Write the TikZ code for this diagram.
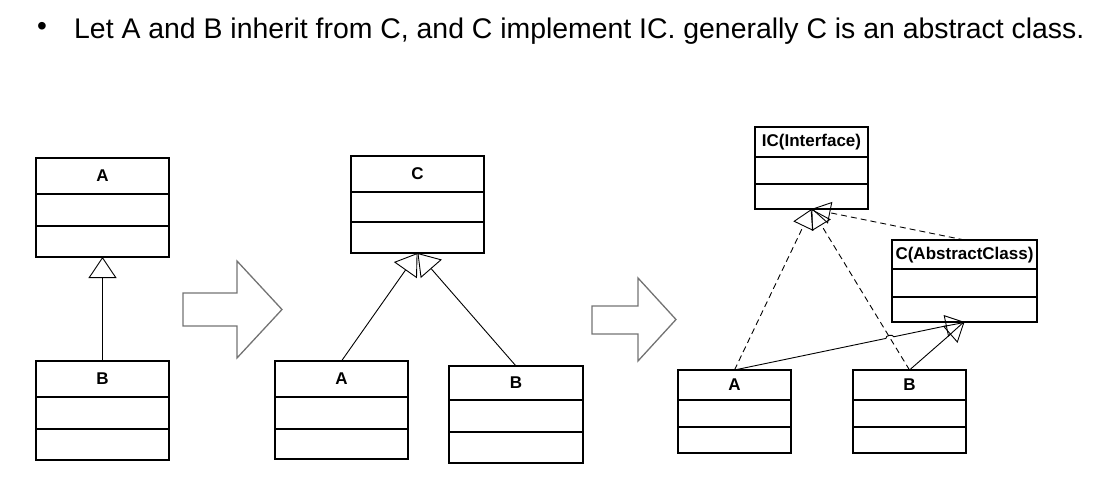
\documentclass[tikz,border=0pt]{standalone}
\usepackage{fontspec}
\setmainfont{Liberation Sans}
\usepackage{tikz}
\usetikzlibrary{arrows.meta, calc, positioning}

\tikzset{
  cls/.style={draw, line width=2.6pt, inner sep=0pt, outer sep=0pt},
  clsthin/.style={draw, line width=1.8pt, inner sep=0pt, outer sep=0pt},
  sep/.style={line width=1.8pt},
  septhin/.style={line width=1.4pt},
  clsname/.style={font=\bfseries\fontsize{17}{20}\selectfont, inner sep=0pt},
  clsnamesm/.style={font=\bfseries\fontsize{17}{20}\selectfont, inner sep=0pt},
  inh/.style={-{Triangle[open, length=21pt, width=28pt]}, line width=0.9pt},
  inhsm/.style={-{Triangle[open, length=19pt, width=22pt]}, line width=0.9pt},
  impl/.style={inhsm, dash pattern=on 6pt off 4pt},
  bigarrow/.style={draw=black!55, line width=1.3pt, line join=miter}
}

\begin{document}
\begin{tikzpicture}[x=1pt, y=-1pt]

  \useasboundingbox (0,0) rectangle (1093,487);

  % heading
  \node (bullet) at (42,29) {\fontsize{28}{32}\selectfont\textbullet};
  \node[anchor=base west, inner sep=0pt, font=\fontsize{28.4}{32}\selectfont] (title) at (74,39)
    {Let A and B inherit from C, and C implement IC. generally C is an abstract class.};

  % first picture: B inherits from A
  \node[cls, minimum width=133pt, minimum height=99pt] (A1) at (102.5,207.5) {};
  \node[cls, minimum width=133pt, minimum height=99pt] (B1) at (102.5,410.5) {};
  \node[clsname] (A1t) at ([yshift=-18pt]A1.north) {A};
  \node[clsname] (B1t) at ([yshift=-18pt]B1.north) {B};
  \draw[inh] (B1.north) -- (A1.south);

  \draw[bigarrow] (183,293) -- (237,293) -- (237,261) -- (282,309.5)
    -- (237,358) -- (237,326) -- (183,326) -- cycle;

  % second picture: A and B inherit from C
  \node[cls, minimum width=133pt, minimum height=97pt] (C2) at (417.5,204.5) {};
  \node[cls, minimum width=133pt, minimum height=98pt] (A2) at (341.5,410) {};
  \node[cls, minimum width=134pt, minimum height=97pt] (B2) at (516,414.5) {};
  \node[clsname] (C2t) at ([yshift=-18pt]C2.north) {C};
  \node[clsname] (A2t) at ([yshift=-18pt]A2.north) {A};
  \node[clsname] (B2t) at ([yshift=-17pt]B2.north) {B};
  \draw[inh] (A2.north) -- (C2.south);
  \draw[inh] (B2.north) -- (C2.south);

  \draw[bigarrow] (592,306) -- (638,306) -- (638,278) -- (676,319.5)
    -- (638,361) -- (638,334) -- (592,334) -- cycle;

  % third picture: C implements IC
  \node[clsthin, minimum width=113pt, minimum height=82pt] (IC) at (811.5,168) {};
  \node[clsthin, minimum width=145pt, minimum height=82pt] (C3) at (964.5,281) {};
  \node[clsthin, minimum width=113pt, minimum height=83pt] (A3) at (734.5,411.5) {};
  \node[clsthin, minimum width=113pt, minimum height=83pt] (B3) at (909.5,411.5) {};
  \node[clsnamesm] (ICt) at ([yshift=-15pt]IC.north) {IC(Interface)};
  \node[clsnamesm] (C3t) at ([yshift=-15pt]C3.north) {C(AbstractClass)};
  \node[clsnamesm] (A3t) at ([yshift=-15pt]A3.north) {A};
  \node[clsnamesm] (B3t) at ([yshift=-15pt]B3.north) {B};

  % compartments
  \foreach \n/\a/\b in {A1/36/68, B1/36/68, C2/36/66, A2/36/68, B2/34/66}
    \draw[sep] ([yshift=-\a pt]\n.north west) -- ([yshift=-\a pt]\n.north east)
               ([yshift=-\b pt]\n.north west) -- ([yshift=-\b pt]\n.north east);
  \foreach \n/\a/\b in {IC/30/57, C3/29/57, A3/30/57, B3/30/57}
    \draw[septhin] ([yshift=-\a pt]\n.north west) -- ([yshift=-\a pt]\n.north east)
                   ([yshift=-\b pt]\n.north west) -- ([yshift=-\b pt]\n.north east);

  \coordinate (hop) at (889.8,337.6);
  \draw[impl] (A3.north) -- (IC.south);
  \draw[impl] (B3.north) -- (IC.south);
  \draw[impl] (C3.north) -- (IC.south);
  \draw[inhsm] (A3.north) -- ($(hop)!4pt!(A3.north)$) to[bend left=90]
    ($(hop)!4pt!(C3.south)$) -- (C3.south);
  \draw[inhsm] (B3.north) -- (C3.south);

\end{tikzpicture}
\end{document}
